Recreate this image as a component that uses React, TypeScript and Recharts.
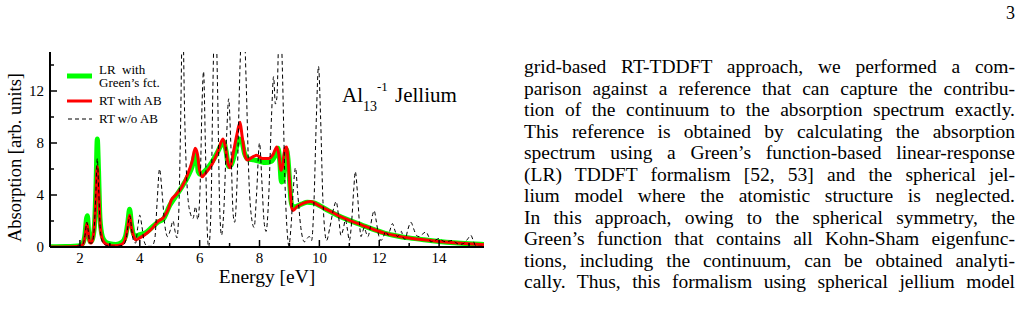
import React from 'react';
import { LineChart, Line, XAxis, YAxis, Legend, Label } from 'recharts';

// LR with Green's function (thick green)
const lrEnergy = [1.0, 1.5, 1.8, 2.0, 2.1, 2.17, 2.22, 2.25, 2.29, 2.34, 2.4, 2.48, 2.54, 2.58, 2.62, 2.67, 2.75, 2.85, 3.0, 3.2, 3.4, 3.52, 3.6, 3.66, 3.72, 3.8, 3.9, 4.0, 4.2, 4.4, 4.6, 4.8, 5.0, 5.2, 5.4, 5.6, 5.75, 5.85, 5.9, 5.95, 6.02, 6.2, 6.4, 6.6, 6.8, 6.88, 6.97, 7.05, 7.2, 7.33, 7.4, 7.5, 7.6, 7.8, 8.0, 8.2, 8.4, 8.55, 8.62, 8.68, 8.73, 8.78, 8.85, 8.9, 8.95, 9.0, 9.05, 9.1, 9.2, 9.4, 9.6, 9.8, 10.0, 10.3, 10.6, 11.0, 11.4, 11.8, 12.2, 12.6, 13.0, 13.5, 14.0, 14.5, 15.0, 15.5];
const lrAbs = [0.02, 0.03, 0.05, 0.1, 0.3, 1.0, 2.2, 2.4, 1.2, 0.4, 0.5, 1.5, 5.0, 8.3, 6.0, 2.2, 0.8, 0.4, 0.25, 0.2, 0.35, 0.8, 1.9, 2.9, 1.8, 0.9, 0.85, 0.95, 1.1, 1.5, 1.9, 2.2, 3.2, 3.9, 4.6, 5.4, 6.2, 7.1, 7.0, 5.8, 5.6, 5.9, 6.5, 7.3, 8.1, 7.4, 6.2, 6.3, 7.4, 8.3, 8.2, 7.2, 6.8, 6.7, 6.6, 6.5, 6.6, 7.2, 7.6, 6.5, 5.0, 5.1, 7.0, 7.5, 6.8, 5.2, 3.6, 3.1, 3.1, 3.3, 3.45, 3.4, 3.2, 2.8, 2.45, 2.05, 1.7, 1.35, 1.05, 0.85, 0.7, 0.55, 0.42, 0.32, 0.25, 0.2];

// RT with absorbing boundary (red)
const rtEnergy = [1.0, 1.8, 2.0, 2.1, 2.17, 2.23, 2.27, 2.32, 2.38, 2.45, 2.52, 2.58, 2.63, 2.68, 2.75, 2.85, 3.0, 3.2, 3.4, 3.5, 3.6, 3.66, 3.72, 3.8, 3.88, 4.0, 4.2, 4.4, 4.6, 4.8, 4.95, 5.05, 5.2, 5.4, 5.6, 5.75, 5.85, 5.92, 6.0, 6.08, 6.2, 6.4, 6.6, 6.78, 6.85, 6.95, 7.02, 7.12, 7.25, 7.35, 7.42, 7.52, 7.6, 7.75, 7.9, 8.1, 8.3, 8.45, 8.58, 8.64, 8.72, 8.78, 8.85, 8.9, 8.96, 9.02, 9.08, 9.12, 9.25, 9.45, 9.7, 9.9, 10.1, 10.4, 10.6, 11.0, 11.4, 11.8, 12.2, 12.6, 13.0, 13.5, 14.0, 14.5, 15.0, 15.5];
const rtAbs = [0.0, 0.02, 0.05, 0.2, 0.8, 1.8, 1.3, 0.4, 0.3, 0.9, 3.0, 6.2, 4.2, 1.6, 0.6, 0.25, 0.12, 0.1, 0.2, 0.5, 1.6, 2.45, 1.5, 0.8, 0.55, 0.7, 1.0, 1.4, 1.95, 2.3, 2.9, 3.6, 4.0, 4.6, 5.6, 6.6, 7.6, 7.2, 5.9, 5.4, 5.7, 6.3, 7.3, 8.3, 7.8, 6.4, 6.1, 7.2, 8.7, 9.6, 8.5, 7.0, 6.7, 6.9, 7.05, 6.8, 6.8, 7.1, 7.7, 7.2, 5.9, 6.3, 7.6, 7.7, 6.5, 4.5, 3.0, 2.8, 3.1, 3.35, 3.5, 3.3, 3.05, 2.7, 2.45, 2.05, 1.7, 1.35, 1.05, 0.85, 0.7, 0.55, 0.43, 0.33, 0.25, 0.18];

// RT without absorbing boundary (dashed)
const noAbEnergy = [1.0, 1.85, 1.95, 2.02, 2.1, 2.17, 2.23, 2.28, 2.33, 2.4, 2.47, 2.53, 2.58, 2.63, 2.68, 2.75, 2.9, 3.2, 3.45, 3.55, 3.62, 3.67, 3.73, 3.8, 3.86, 3.93, 4.0, 4.07, 4.15, 4.25, 4.4, 4.5, 4.58, 4.66, 4.74, 4.83, 4.93, 5.02, 5.11, 5.18, 5.24, 5.3, 5.36, 5.43, 5.5, 5.6, 5.7, 5.78, 5.86, 5.94, 6.02, 6.08, 6.13, 6.19, 6.25, 6.3, 6.38, 6.44, 6.52, 6.6, 6.67, 6.73, 6.8, 6.9, 6.97, 7.04, 7.12, 7.17, 7.25, 7.35, 7.45, 7.55, 7.65, 7.75, 7.82, 7.9, 8.0, 8.08, 8.15, 8.22, 8.3, 8.4, 8.47, 8.53, 8.58, 8.68, 8.76, 8.85, 8.93, 8.98, 9.05, 9.13, 9.2, 9.28, 9.38, 9.5, 9.6, 9.67, 9.74, 9.82, 9.9, 9.97, 10.04, 10.12, 10.24, 10.35, 10.48, 10.56, 10.64, 10.72, 10.8, 10.87, 10.94, 11.0, 11.08, 11.15, 11.2, 11.27, 11.34, 11.39, 11.45, 11.5, 11.56, 11.62, 11.7, 11.78, 11.83, 11.9, 11.98, 12.06, 12.14, 12.22, 12.3, 12.36, 12.44, 12.52, 12.61, 12.68, 12.74, 12.8, 12.87, 12.95, 13.06, 13.15, 13.24, 13.33, 13.45, 13.56, 13.65, 13.72, 13.85, 14.0, 14.1, 14.22, 14.33, 14.44, 14.55, 14.67, 14.8, 14.95, 15.06, 15.14, 15.22, 15.35, 15.5];
const noAbAbs = [0.0, 0.02, 0.15, 0.05, 0.2, 0.9, 1.9, 1.2, 0.3, 0.3, 1.2, 4.0, 6.8, 4.2, 1.4, 0.4, 0.1, 0.05, 0.15, 0.7, 1.9, 2.4, 1.3, 0.4, 0.3, 1.5, 2.45, 1.6, 0.4, 0.05, 0.05, 0.6, 3.5, 6.0, 4.3, 1.8, 0.8, 1.3, 2.0, 1.2, 0.7, 2.5, 9.0, 18, 10, 4.0, 2.5, 2.2, 3.1, 2.1, 5.0, 11, 13.5, 8.0, 1.5, 0.0, 3.0, 12, 19, 12, 3, 0.9, 2.5, 8.5, 11.4, 8.0, 2.5, 1.9, 5.0, 14, 19, 13, 5, 2.0, 1.5, 4.0, 8.0, 5.0, 2.0, 1.2, 3.5, 10, 13.1, 11.0, 11.5, 19, 14, 5, 1.0, 0.1, 1.5, 4.5, 6.1, 4.0, 1.5, 0.4, 0.7, 0.8, 0.5, 3.5, 10, 13.9, 10, 3.5, 0.5, 1.5, 3.0, 3.5, 2.4, 0.9, 1.4, 2.1, 1.3, 0.5, 2.0, 4.5, 5.8, 4.2, 1.8, 0.8, 1.2, 1.5, 1.1, 0.8, 1.5, 2.5, 2.8, 2.0, 0.9, 0.5, 0.8, 1.2, 0.9, 1.3, 1.8, 1.3, 0.8, 1.0, 1.2, 0.7, 0.6, 1.3, 1.9, 1.4, 0.9, 0.8, 1.0, 1.16, 0.8, 0.4, 0.5, 0.65, 0.5, 0.4, 0.45, 0.5, 0.35, 0.2, 0.25, 0.6, 0.9, 0.5, 0.1, 0.05, 0.05];

const xTicks = [2, 3, 4, 5, 6, 7, 8, 9, 10, 11, 12, 13, 14, 15];
const xLabeled = [2, 4, 6, 8, 10, 12, 14];
const yTicks = [0, 2, 4, 6, 8, 10, 12, 14];
const yLabeled = [0, 4, 8, 12];

const textLines = [
  'grid-based RT-TDDFT approach, we performed a com-',
  'parison against a reference that can capture the contribu-',
  'tion of the continuum to the absorption spectrum exactly.',
  'This reference is obtained by calculating the absorption',
  'spectrum using a Green’s function-based linear-response',
  '(LR) TDDFT formalism [52, 53] and the spherical jel-',
  'lium model where the atomistic structure is neglected.',
  'In this approach, owing to the spherical symmetry, the',
  'Green’s function that contains all Kohn-Sham eigenfunc-',
  'tions, including the continuum, can be obtained analyti-',
  'cally. Thus, this formalism using spherical jellium model',
];

const lrData = lrEnergy.map((e, i) => ({ e, a: lrAbs[i] }));
const rtData = rtEnergy.map((e, i) => ({ e, a: rtAbs[i] }));
const noAbData = noAbEnergy.map((e, i) => ({ e, a: noAbAbs[i] }));

const serif = '"Liberation Serif", "Times New Roman", serif';

const XTick = ({ x, y, payload }: any) => {
  const major = xLabeled.includes(payload.value);
  return (
    <g>
      <line x1={x} x2={x} y1={y} y2={y - (major ? 7 : 4)} stroke="#000" strokeWidth={1.5} />
      {major && (
        <text x={x} y={y + 16} textAnchor="middle" fontSize={15} fontFamily={serif} fill="#000">
          {payload.value}
        </text>
      )}
    </g>
  );
};

const YTick = ({ x, y, payload }: any) => {
  const major = yLabeled.includes(payload.value);
  return (
    <g>
      <line x1={x} x2={x + (major ? 7 : 4)} y1={y} y2={y} stroke="#000" strokeWidth={1.5} />
      {major && (
        <text x={x - 6} y={y + 5} textAnchor="end" fontSize={15} fontFamily={serif} fill="#000">
          {payload.value}
        </text>
      )}
    </g>
  );
};

const LegendBox = () => (
  <svg width={120} height={72} style={{ display: 'block' }}>
    <line x1={7} x2={32} y1={16} y2={16} stroke="#00ff00" strokeWidth={5} />
    <text x={39} y={14} fontSize={13} fontFamily={serif} style={{ whiteSpace: 'pre' }}>LR  with</text>
    <text x={39} y={27} fontSize={13} fontFamily={serif}>Green’s fct.</text>
    <line x1={7} x2={32} y1={41} y2={41} stroke="#ff0000" strokeWidth={3} />
    <text x={39} y={45} fontSize={13} fontFamily={serif}>RT with AB</text>
    <line x1={8} x2={32} y1={59} y2={59} stroke="#000" strokeWidth={1} strokeDasharray="4 3" />
    <text x={39} y={63} fontSize={13} fontFamily={serif}>RT w/o AB</text>
  </svg>
);

const YTitle = ({ viewBox }: any) => {
  const cx = viewBox.x + 15;
  const cy = viewBox.y + viewBox.height / 2 + 8;
  return (
    <text x={cx} y={cy} transform={`rotate(-90 ${cx} ${cy})`} textAnchor="middle" dominantBaseline="central" fontSize={18.5} fontFamily={serif} fill="#000">
      Absorption [arb. units]
    </text>
  );
};

const XTitle = ({ viewBox }: any) => (
  <text x={viewBox.x + viewBox.width / 2} y={viewBox.y + 36} textAnchor="middle" fontSize={19.5} fontFamily={serif} fill="#000">
    Energy [eV]
  </text>
);

export default function App() {
  return (
    <div style={{ position: 'absolute', left: 0, top: 0, width: 1022, height: 309, background: '#fff', overflow: 'hidden', fontFamily: serif }}>
      <div style={{ position: 'absolute', left: 0, top: 0 }}>
        <LineChart width={490} height={300} margin={{ top: 52, right: 6, bottom: 0, left: 0 }}>
          <XAxis
            dataKey="e"
            type="number"
            domain={[1, 15.5]}
            ticks={xTicks}
            interval={0}
            allowDataOverflow
            height={53}
            tickSize={0}
            tickMargin={0}
            tick={<XTick />}
            axisLine={{ stroke: '#000', strokeWidth: 2 }}
          >
            <Label content={<XTitle />} />
          </XAxis>
          <XAxis xAxisId="top" orientation="top" type="number" domain={[1, 15.5]} height={0} tick={false} tickLine={false} axisLine={{ stroke: '#000', strokeWidth: 2 }} />
          <YAxis
            type="number"
            domain={[0, 15]}
            ticks={yTicks}
            interval={0}
            allowDataOverflow
            width={50}
            tickSize={0}
            tickMargin={0}
            tick={<YTick />}
            axisLine={{ stroke: '#000', strokeWidth: 2 }}
          >
            <Label content={<YTitle />} />
          </YAxis>
          <YAxis yAxisId="right" orientation="right" type="number" domain={[0, 15]} width={0} tick={false} tickLine={false} axisLine={{ stroke: '#000', strokeWidth: 2 }} />
          <Legend
            layout="horizontal"
            verticalAlign="middle"
            align="center"
            content={<LegendBox />}
            wrapperStyle={{ left: 60, top: 60, width: 120, height: 72 }}
          />
          <Line data={lrData} dataKey="a" type="monotone" stroke="#00ff00" strokeWidth={5} dot={false} isAnimationActive={false} />
          <Line data={rtData} dataKey="a" type="monotone" stroke="#ff0000" strokeWidth={3} dot={false} isAnimationActive={false} />
          <Line data={noAbData} dataKey="a" type="monotone" stroke="#000" strokeWidth={1} strokeDasharray="4 3" dot={false} isAnimationActive={false} />
        </LineChart>
      </div>
      <svg width={490} height={300} style={{ position: 'absolute', left: 0, top: 0, pointerEvents: 'none' }}>
        <g fontFamily={serif} fill="#000">
          <text x={342} y={102} fontSize={21}>Al</text>
          <text x={363} y={111} fontSize={14}>13</text>
          <text x={377} y={91} fontSize={13}>-1</text>
          <text x={395} y={102} fontSize={21}>Jellium</text>
        </g>
      </svg>
      <div style={{ position: 'absolute', right: 7, top: 3, fontSize: 18, lineHeight: '20px' }}>3</div>
      <div style={{ position: 'absolute', left: 524, top: 56, width: 491, fontSize: 19.5, lineHeight: '21.5px', color: '#000' }}>
        {textLines.map((t, i) => (
          <div key={i} style={{ whiteSpace: 'nowrap', textAlign: 'justify', textAlignLast: 'justify' }}>{t}</div>
        ))}
      </div>
    </div>
  );
}
